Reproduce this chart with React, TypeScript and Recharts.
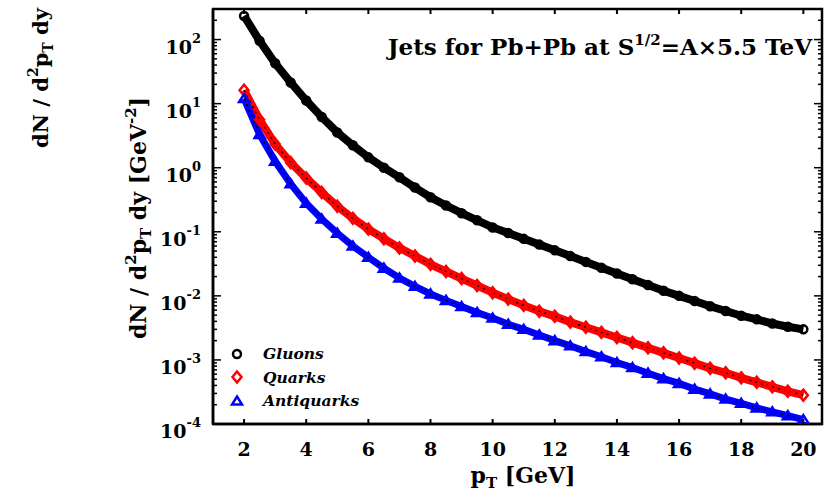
import React from "react";
import {
  LineChart,
  Line,
  XAxis,
  YAxis,
  ReferenceArea,
  Legend,
} from "recharts";

// pT grid [GeV]
const PT = [
  2, 2.5, 3, 3.5, 4, 4.5, 5, 5.5, 6, 6.5, 7, 7.5, 8, 8.5, 9, 9.5, 10, 10.5, 11,
  11.5, 12, 12.5, 13, 13.5, 14, 14.5, 15, 15.5, 16, 16.5, 17, 17.5, 18, 18.5,
  19, 19.5, 20,
];

// dN / d2pT dy [GeV^-2]
const GLUONS = [
  234, 95.5, 42.7, 21.4, 11.2, 6.17, 3.55, 2.24, 1.45, 1.0, 0.708, 0.49, 0.347,
  0.257, 0.195, 0.151, 0.117, 0.0955, 0.0776, 0.0631, 0.0513, 0.0417, 0.0339,
  0.0275, 0.0224, 0.0182, 0.0148, 0.012, 0.01, 0.0083, 0.0069, 0.0058, 0.0049,
  0.0043, 0.0037, 0.0033, 0.003,
];
const QUARKS = [
  16.2, 5.62, 2.34, 1.2, 0.69, 0.41, 0.25, 0.162, 0.11, 0.078, 0.056, 0.042,
  0.031, 0.024, 0.0186, 0.0145, 0.0112, 0.0089, 0.0071, 0.00575, 0.00479,
  0.00389, 0.00324, 0.00269, 0.00224, 0.00186, 0.00155, 0.00129, 0.00107,
  0.00089, 0.00074, 0.00063, 0.000525, 0.000447, 0.00038, 0.000324, 0.000282,
];
const ANTIQUARKS = [
  12.0, 3.31, 1.26, 0.56, 0.28, 0.158, 0.095, 0.06, 0.04, 0.027, 0.019, 0.0141,
  0.0107, 0.0085, 0.0068, 0.0055, 0.0045, 0.0036, 0.003, 0.00245, 0.002,
  0.00166, 0.00135, 0.00112, 0.00091, 0.00076, 0.00062, 0.00051, 0.00043,
  0.00035, 0.000295, 0.000245, 0.00021, 0.000178, 0.000155, 0.000135, 0.000117,
];

const X_TICKS = [2, 4, 6, 8, 10, 12, 14, 16, 18, 20];
const DECADES = [-4, -3, -2, -1, 0, 1, 2];
const Y_MAX = 300;

const SERIES = [
  { key: "gluons", name: "Gluons", color: "#000000", shape: "circle", width: 8 },
  { key: "quarks", name: "Quarks", color: "#ff0000", shape: "diamond", width: 8 },
  { key: "antiquarks", name: "Antiquarks", color: "#0000ff", shape: "triangle", width: 7 },
];

const W = 824;
const H = 493;
const MARGIN = { top: 9, right: 2, bottom: 29, left: 133 };
const Y_AXIS_W = 80;
const X_AXIS_H = 40;
const PLOT_TOP = MARGIN.top;
const PLOT_RIGHT = W - MARGIN.right;
const FONT = "'DejaVu Serif', 'Liberation Serif', serif";

const data = PT.map((pt, i) => ({
  pt,
  gluons: GLUONS[i],
  quarks: QUARKS[i],
  antiquarks: ANTIQUARKS[i],
}));

// major ticks at every decade, minor ones at 2..9
const yTicks: number[] = [];
DECADES.forEach((e) => {
  for (let m = 1; m <= 9; m++) {
    const v = m * Math.pow(10, e);
    if (v <= Y_MAX) yTicks.push(v);
  }
});

function markerPath(shape: string, cx: number, cy: number) {
  if (shape === "diamond")
    return `M${cx},${cy - 5.5}L${cx + 4.5},${cy}L${cx},${cy + 5.5}L${cx - 4.5},${cy}Z`;
  if (shape === "triangle")
    return `M${cx},${cy - 4.5}L${cx + 5},${cy + 3.5}L${cx - 5},${cy + 3.5}Z`;
  return `M${cx - 4},${cy}a4,4 0 1,0 8,0a4,4 0 1,0 -8,0Z`;
}

function makeDot(shape: string, color: string) {
  return (props: any) => {
    const { cx, cy, index } = props;
    if (cx == null || cy == null) return <g key={`d-${shape}-${index}`} />;
    return (
      <path
        key={`d-${shape}-${index}`}
        d={markerPath(shape, cx, cy)}
        fill="none"
        stroke={color}
        strokeWidth={2.5}
      />
    );
  };
}

function XTick(props: any) {
  const { x, y, payload } = props;
  return (
    <g>
      <line x1={x} x2={x} y1={y} y2={y - 5} stroke="#000" strokeWidth={2} />
      <line x1={x} x2={x} y1={PLOT_TOP} y2={PLOT_TOP + 5} stroke="#000" strokeWidth={2} />
      <text
        x={x}
        y={y + 32}
        textAnchor="middle"
        fontFamily={FONT}
        fontWeight="bold"
        fontSize={19}
        fill="#000"
      >
        {payload.value}
      </text>
    </g>
  );
}

function YTick(props: any) {
  const { x, y, payload } = props;
  const v = payload.value as number;
  const lg = Math.log10(v);
  const major = Math.abs(lg - Math.round(lg)) < 1e-6;
  const len = major ? 8 : 4;
  return (
    <g>
      <line x1={x} x2={x + len} y1={y} y2={y} stroke="#000" strokeWidth={1.5} />
      <line x1={PLOT_RIGHT} x2={PLOT_RIGHT - len} y1={y} y2={y} stroke="#000" strokeWidth={1.5} />
      {major && (
        <text
          x={x - 12}
          y={y + 14}
          textAnchor="end"
          fontFamily={FONT}
          fontWeight="bold"
          fontSize={19}
          fill="#000"
        >
          10
          <tspan dy={-11} fontSize={13}>
            {Math.round(lg)}
          </tspan>
        </text>
      )}
    </g>
  );
}

function LegendBox() {
  return (
    <div style={{ fontFamily: FONT, fontWeight: "bold", fontStyle: "italic", fontSize: 15.5 }}>
      {SERIES.map((s) => (
        <div key={s.key} style={{ display: "flex", alignItems: "center", height: 23.5 }}>
          <svg width={24} height={16} style={{ marginRight: 14 }}>
            <path
              d={markerPath(s.shape, 12, 8)}
              fill="none"
              stroke={s.color}
              strokeWidth={2.5}
            />
          </svg>
          <span>{s.name}</span>
        </div>
      ))}
    </div>
  );
}

export default function App() {
  return (
    <div style={{ position: "absolute", left: 0, top: 0, width: W, height: H, background: "#fff" }}>
      <LineChart width={W} height={H} data={data} margin={MARGIN}>
        <XAxis
          dataKey="pt"
          type="number"
          domain={[1, 20.6]}
          ticks={X_TICKS}
          allowDataOverflow
          height={X_AXIS_H}
          tickSize={0}
          tickMargin={0}
          tickLine={false}
          axisLine={{ stroke: "#000", strokeWidth: 2.5 }}
          tick={<XTick />}
        />
        <YAxis
          scale="log"
          domain={[1e-4, Y_MAX]}
          ticks={yTicks}
          allowDataOverflow
          width={Y_AXIS_W}
          tickSize={0}
          tickMargin={0}
          tickLine={false}
          interval={0}
          axisLine={{ stroke: "#000", strokeWidth: 2.5 }}
          tick={<YTick />}
        />
        <ReferenceArea
          x1={1}
          x2={20.6}
          y1={1e-4}
          y2={Y_MAX}
          fill="none"
          stroke="#000"
          strokeWidth={2.5}
          fillOpacity={0}
        />
        {SERIES.map((s) => (
          <Line
            key={s.key}
            dataKey={s.key}
            name={s.name}
            type="linear"
            stroke={s.color}
            strokeWidth={s.width}
            dot={makeDot(s.shape, s.color)}
            isAnimationActive={false}
          />
        ))}
        {SERIES.slice(1).map((s) => (
          <Line
            key={`${s.key}-center`}
            dataKey={s.key}
            type="linear"
            stroke="#000"
            strokeWidth={1.3}
            strokeDasharray="2 4"
            dot={false}
            legendType="none"
            isAnimationActive={false}
          />
        ))}
        <Legend
          layout="vertical"
          verticalAlign="middle"
          align="center"
          content={<LegendBox />}
          wrapperStyle={{ left: 225, top: 342, width: 170 }}
        />
      </LineChart>
      <svg
        width={W}
        height={H}
        style={{ position: "absolute", left: 0, top: 0, pointerEvents: "none" }}
        fontFamily={FONT}
        fontWeight="bold"
      >
        <text x={812} y={55} textAnchor="end" fontSize={23} fill="#000">
          Jets for Pb+Pb at S
          <tspan dy={-10} fontSize={15}>
            1/2
          </tspan>
          <tspan dy={10}>=A×5.5 TeV</tspan>
        </text>
        <text x={523} y={483} textAnchor="middle" fontSize={22} fill="#000">
          p
          <tspan dy={5} fontSize={15}>
            T
          </tspan>
          <tspan dy={-5}> [GeV]</tspan>
        </text>
        <text
          transform="translate(146,218) rotate(-90)"
          textAnchor="middle"
          fontSize={22}
          fill="#000"
        >
          dN / d
          <tspan dy={-10} fontSize={15}>
            2
          </tspan>
          <tspan dy={10}>p</tspan>
          <tspan dy={5} fontSize={15}>
            T
          </tspan>
          <tspan dy={-5}> dy [GeV</tspan>
          <tspan dy={-10} fontSize={15}>
            -2
          </tspan>
          <tspan dy={10}>]</tspan>
        </text>
        <text
          transform="translate(48,78) rotate(-90)"
          textAnchor="middle"
          fontSize={21}
          fill="#000"
        >
          dN / d
          <tspan dy={-10} fontSize={14}>
            2
          </tspan>
          <tspan dy={10}>p</tspan>
          <tspan dy={5} fontSize={14}>
            T
          </tspan>
          <tspan dy={-5}> dy</tspan>
        </text>
      </svg>
    </div>
  );
}
